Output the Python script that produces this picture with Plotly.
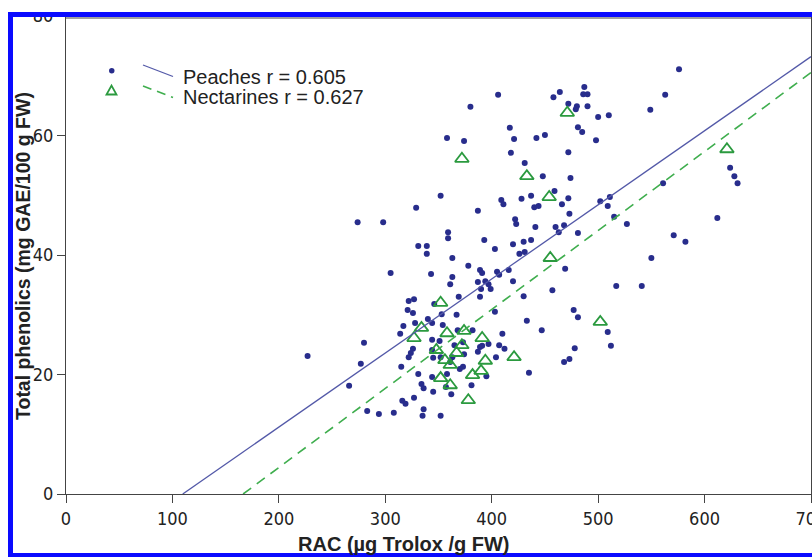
import plotly.graph_objects as go

# ---------------- data ----------------
peach_rac = [576, 563, 549, 406, 380, 464, 458, 487, 486, 490, 472, 480, 479, 490, 500, 510,
             417, 421, 442, 450, 481, 485, 498, 358, 374, 418, 472, 431, 448, 474, 352, 329,
             387, 409, 411, 428, 437, 459, 440, 444, 466, 472, 422, 423, 473, 441, 460, 463,
             468, 481, 502, 511, 509, 515, 527, 359, 359, 393, 437, 430, 420, 274, 298, 561,
             571, 624, 628, 631, 612, 582, 331, 339, 339, 403, 426, 431, 363, 378, 343, 305,
             363, 361, 389, 391, 387, 405, 407, 416, 420, 394, 397, 390, 399, 369, 389, 430,
             457, 469, 517, 541, 550, 322, 327, 346, 321, 326, 353, 367, 403, 477, 481, 433,
             447, 509, 512, 478, 317, 328, 340, 344, 354, 368, 382, 410, 314, 280, 344, 351,
             373, 389, 391, 397, 407, 412, 387, 365, 374, 326, 324, 322, 344, 352, 363, 345,
             227, 404, 277, 315, 361, 373, 370, 468, 473, 435, 395, 331, 344, 358, 381, 362,
             266, 334, 336, 345, 357, 327, 316, 319, 283, 294, 308, 336, 335, 352]
peach_tp = [71.1, 66.8, 64.3, 66.8, 64.8, 67.3, 66.4, 68.1, 66.9, 66.9, 65.3, 64.9, 64.4, 64.9, 63.1, 63.4,
            61.3, 59.4, 59.6, 60.1, 61.4, 60.6, 59.2, 59.6, 59.1, 57.1, 57.2, 55.4, 53.2, 52.9, 49.9, 47.9,
            47.4, 49.2, 48.5, 49.4, 49.9, 50.7, 48.0, 48.2, 48.5, 49.5, 46.0, 45.2, 46.9, 44.7, 44.7, 43.8,
            45.0, 43.7, 49.0, 49.7, 48.2, 46.4, 45.2, 43.8, 42.8, 42.5, 42.5, 42.2, 41.8, 45.5, 45.5, 52.0,
            43.3, 54.6, 53.2, 52.0, 46.2, 42.2, 41.5, 41.5, 40.2, 41.0, 40.2, 40.5, 39.5, 38.2, 36.8, 37.0,
            36.3, 35.1, 37.5, 37.0, 35.5, 37.2, 36.7, 37.5, 35.6, 35.6, 35.1, 34.3, 34.3, 33.0, 33.0, 33.1,
            34.1, 37.7, 34.8, 34.8, 39.5, 32.3, 32.6, 31.8, 30.8, 30.3, 30.1, 30.0, 30.5, 30.8, 29.6, 29.0,
            27.4, 27.1, 24.8, 24.4, 28.1, 28.6, 29.3, 28.6, 28.3, 27.4, 27.4, 26.8, 26.8, 25.3, 25.8, 25.6,
            25.4, 24.6, 24.8, 25.1, 24.9, 24.3, 23.8, 24.9, 23.4, 24.3, 23.6, 22.9, 24.1, 22.9, 22.9, 22.8,
            23.1, 22.9, 21.8, 21.3, 22.1, 21.3, 20.9, 22.1, 22.6, 20.3, 19.7, 20.1, 19.6, 20.1, 18.2, 16.7,
            18.1, 18.4, 17.7, 17.1, 17.9, 16.1, 15.6, 15.1, 13.9, 13.4, 13.6, 14.2, 13.1, 13.1]

nect_rac = [372, 433, 471, 454, 455, 502, 621, 352, 334, 327, 358, 374, 391, 348, 367, 372,
            356, 361, 394, 421, 382, 390, 352, 361, 378]
nect_tp = [56.1, 53.2, 63.8, 49.7, 39.5, 28.8, 57.7, 32.0, 27.8, 26.1, 26.9, 27.3, 26.1, 24.1, 23.6, 24.9,
           22.4, 21.6, 22.3, 22.9, 19.9, 20.6, 19.4, 18.2, 15.7]

# regression lines (slope, intercept)
peach_fit = [0.124, -13.6]
nect_fit = [0.1322, -22.0]

peach_label = "Peaches r = 0.605"
nect_label = "Nectarines r = 0.627"
x_title = "RAC (µg Trolox /g FW)"
y_title = "Total phenolics (mg GAE/100 g FW)"
x_ticks = [0, 100, 200, 300, 400, 500, 600, 700]
y_ticks = [0, 20, 40, 60, 80]
x_range = [0, 700]
y_range = [0, 80]

# ---------------- geometry ----------------
W, H = 812, 557
L, R, T, B = 66, 811, 16, 494   # plot area in pixels


def px(xp):
    return (xp - L) / (R - L)


def py(yp):
    return (B - yp) / (B - T)


DOT = "#282d8c"
TRI = "#2b9a3f"
SOLID = "#5359a8"
DASH = "#3fae4e"
AX = "#444444"
TXT = "#222222"
BLUE = "#0a0aff"
FONT = "Liberation Sans, Arial, sans-serif"

fig = go.Figure()

fig.add_trace(go.Scatter(x=peach_rac, y=peach_tp, mode="markers",
                         marker=dict(symbol="circle", size=6, color=DOT),
                         showlegend=False, hoverinfo="x+y"))
fig.add_trace(go.Scatter(x=nect_rac, y=nect_tp, mode="markers",
                         marker=dict(symbol="triangle-up-open", size=12, color=TRI,
                                     line=dict(width=1.8, color=TRI)),
                         showlegend=False, hoverinfo="x+y"))


def fit_line(fit):
    a, b = fit
    x0 = -b / a
    x1 = x_range[1]
    return [x0, x1], [a * x0 + b, a * x1 + b]


fx, fy = fit_line(peach_fit)
fig.add_trace(go.Scatter(x=fx, y=fy, mode="lines", line=dict(color=SOLID, width=1.3),
                         showlegend=False, hoverinfo="skip"))
fx, fy = fit_line(nect_fit)
fig.add_trace(go.Scatter(x=fx, y=fy, mode="lines",
                         line=dict(color=DASH, width=1.6, dash="10px,7px"),
                         showlegend=False, hoverinfo="skip"))

shapes = []
# custom legend symbols
shapes.append(dict(type="circle", xref="paper", yref="paper",
                   x0=px(109), x1=px(114.5), y0=py(73.5), y1=py(68),
                   fillcolor=DOT, line=dict(width=0)))
tri = "M {} {} L {} {} L {} {} Z".format(px(106.5), py(94.5), px(116.5), py(94.5), px(111.5), py(85.5))
shapes.append(dict(type="path", xref="paper", yref="paper", path=tri,
                   line=dict(color=TRI, width=1.8)))
shapes.append(dict(type="line", xref="paper", yref="paper",
                   x0=px(143), y0=py(65), x1=px(173), y1=py(76.5),
                   line=dict(color=SOLID, width=1.3)))
shapes.append(dict(type="line", xref="paper", yref="paper",
                   x0=px(143), y0=py(86), x1=px(173), y1=py(97.5),
                   line=dict(color=DASH, width=1.6, dash="9px,6px")))

# page frame (white outside, blue border on left, top and bottom)
shapes.append(dict(type="rect", xref="paper", yref="paper", layer="above",
                   x0=px(-5), x1=px(W + 5), y0=py(-5), y1=py(12),
                   fillcolor="white", line=dict(width=0)))
shapes.append(dict(type="rect", xref="paper", yref="paper", layer="above",
                   x0=px(-5), x1=px(8), y0=py(-5), y1=py(H + 5),
                   fillcolor="white", line=dict(width=0)))
shapes.append(dict(type="rect", xref="paper", yref="paper", layer="above",
                   x0=px(8), x1=px(W + 5), y0=py(12), y1=py(17),
                   fillcolor=BLUE, line=dict(width=0)))
shapes.append(dict(type="rect", xref="paper", yref="paper", layer="above",
                   x0=px(8), x1=px(13), y0=py(12), y1=py(H + 5),
                   fillcolor=BLUE, line=dict(width=0)))
shapes.append(dict(type="rect", xref="paper", yref="paper", layer="above",
                   x0=px(8), x1=px(W + 5), y0=py(553), y1=py(H + 5),
                   fillcolor=BLUE, line=dict(width=0)))
shapes.append(dict(type="line", xref="paper", yref="paper", layer="above",
                   x0=px(L), x1=px(R), y0=py(18), y1=py(18),
                   line=dict(color=AX, width=1.2)))

annotations = [
    dict(text=peach_label, xref="paper", yref="paper", x=px(181), y=py(76.5),
         xanchor="left", yanchor="middle", showarrow=False,
         font=dict(family=FONT, size=20, color=TXT)),
    dict(text=nect_label, xref="paper", yref="paper", x=px(181), y=py(97.5),
         xanchor="left", yanchor="middle", showarrow=False,
         font=dict(family=FONT, size=20, color=TXT)),
    dict(text="<b>" + x_title + "</b>", xref="paper", yref="paper", x=px(404), y=py(544),
         xanchor="center", yanchor="middle", showarrow=False,
         font=dict(family=FONT, size=20, color=TXT)),
    dict(text="<b>" + y_title + "</b>", xref="paper", yref="paper", x=px(23), y=py(256),
         xanchor="center", yanchor="middle", showarrow=False, textangle=-90,
         font=dict(family=FONT, size=19.5, color=TXT)),
]

tickfont = dict(family="Liberation Sans Narrow, Arial Narrow, DejaVu Sans Condensed, sans-serif",
                size=18, color=TXT)

fig.update_layout(
    width=W, height=H,
    margin=dict(l=L, r=W - R, t=T, b=H - B, pad=0),
    paper_bgcolor="white", plot_bgcolor="white",
    showlegend=False,
    shapes=shapes,
    annotations=annotations,
    xaxis=dict(range=x_range, tickvals=x_ticks, ticks="outside", ticklen=8, tickwidth=1.3,
               tickcolor=AX, showline=True, linecolor=AX, linewidth=1.3, mirror=True,
               showgrid=False, zeroline=False, tickfont=tickfont, automargin=False,
               ticklabeloverflow="allow"),
    yaxis=dict(range=y_range, tickvals=y_ticks, ticks="outside", ticklen=8, tickwidth=1.3,
               tickcolor=AX, showline=True, linecolor=AX, linewidth=1.3, mirror=True,
               showgrid=False, zeroline=False, tickfont=tickfont, automargin=False,
               ticklabeloverflow="allow"),
)

# remove the default 8px page margin so the figure fills the window exactly
fig.write_html("out.html", config={"displayModeBar": False},
               post_script="document.body.style.margin='0';document.body.style.overflow='hidden';")
